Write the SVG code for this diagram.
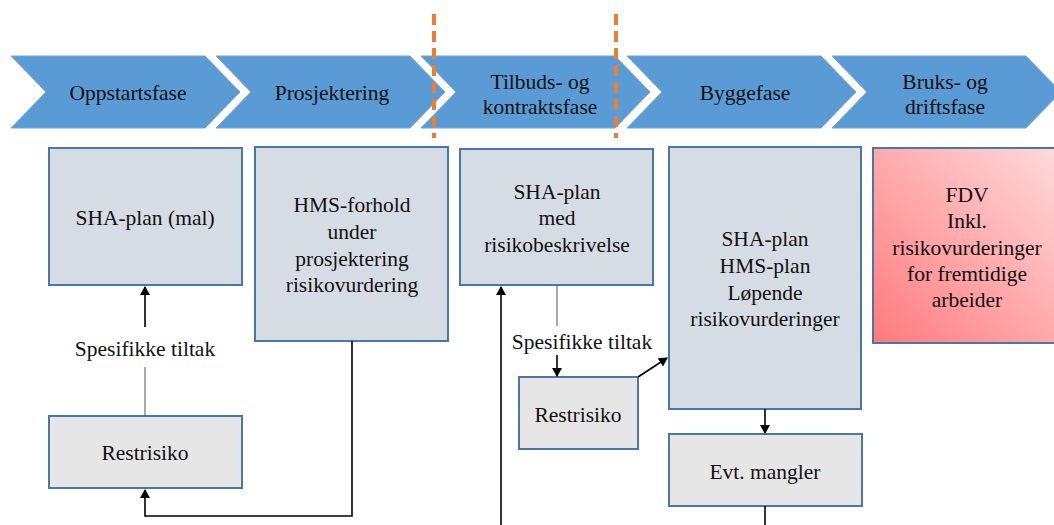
<svg xmlns="http://www.w3.org/2000/svg" width="1054" height="525" viewBox="0 0 1054 525">
<style>
text{font-family:"Liberation Serif","Times New Roman",serif;font-size:21.5px;fill:#111;text-anchor:middle}
.chev{fill:#5b9bd5;stroke:#6fa6d8;stroke-width:1}
.box{fill:#d6dce4;stroke:#4a76a8;stroke-width:2}
.gbox{fill:#e7e6e6;stroke:#4a76a8;stroke-width:2}
.conn{fill:none;stroke:#000;stroke-width:1.6}
.thin{fill:none;stroke:#555;stroke-width:1}
.dash{stroke:#ed7d31;stroke-width:4;stroke-dasharray:11 6;fill:none}
</style>
<defs>
<marker id="ah" markerWidth="10" markerHeight="10" refX="8" refY="5" orient="auto" markerUnits="userSpaceOnUse">
<path d="M0,0 L9,5 L0,10 z" fill="#000"/>
</marker>
<linearGradient id="red" x1="0" y1="1" x2="1" y2="0">
<stop offset="0" stop-color="#ff7a7e"/>
<stop offset="1" stop-color="#ffdcdc"/>
</linearGradient>
</defs>
<rect width="1054" height="525" fill="#fff"/>
<g id="phase1"><polygon class="chev" points="11,56 205,56 240,92 205,128 11,128 46,92"/><text x="128" y="100">Oppstartsfase</text></g>
<g id="phase2"><polygon class="chev" points="216,56 410,56 445,92 410,128 216,128 251,92"/><text x="332" y="100">Prosjektering</text></g>
<g id="phase3"><polygon class="chev" points="421,56 615,56 650,92 615,128 421,128 456,92"/><text x="540" y="89">Tilbuds- og</text><text x="540" y="114">kontraktsfase</text></g>
<g id="phase4"><polygon class="chev" points="627,56 821,56 856,92 821,128 627,128 662,92"/><text x="745" y="100">Byggefase</text></g>
<g id="phase5"><polygon class="chev" points="832,56 1026,56 1061,92 1026,128 832,128 867,92"/><text x="945" y="89">Bruks- og</text><text x="945" y="114">driftsfase</text></g>
<g id="dividers"><line class="dash" x1="434" y1="14" x2="434" y2="138"/><line class="dash" x1="616" y1="14" x2="616" y2="138"/></g>
<g id="sha-mal"><rect class="box" x="49" y="148" width="193" height="137"/><text x="145" y="225">SHA-plan (mal)</text></g>
<g id="hms-forhold"><rect class="box" x="255" y="147" width="193" height="194"/><text x="352" y="212">HMS-forhold</text><text x="352" y="239">under</text><text x="352" y="266">prosjektering</text><text x="352" y="292">risikovurdering</text></g>
<g id="restrisiko1"><rect class="gbox" x="49" y="416" width="193" height="72"/><text x="145" y="460">Restrisiko</text></g>
<g id="sha-risiko"><rect class="box" x="460" y="149" width="193" height="136"/><text x="557" y="199">SHA-plan</text><text x="557" y="225">med</text><text x="557" y="252">risikobeskrivelse</text></g>
<g id="sha-hms"><rect class="box" x="669" y="147" width="192" height="262"/><text x="765" y="246">SHA-plan</text><text x="765" y="273">HMS-plan</text><text x="765" y="300">Løpende</text><text x="765" y="326">risikovurderinger</text></g>
<g id="restrisiko2"><rect class="gbox" x="519" y="377" width="119" height="72"/><text x="578" y="422">Restrisiko</text></g>
<g id="mangler"><rect class="gbox" x="669" y="434" width="193" height="72"/><text x="765" y="479">Evt. mangler</text></g>
<g id="fdv"><rect x="873" y="148" width="190" height="195" fill="url(#red)" stroke="#4a76a8" stroke-width="2"/><text x="967" y="202">FDV</text><text x="967" y="228">Inkl.</text><text x="967" y="255">risikovurderinger</text><text x="967" y="281">for fremtidige</text><text x="967" y="307">arbeider</text></g>
<g id="connectors">
<line class="thin" x1="145" y1="416" x2="145" y2="367"/>
<line class="conn" x1="145" y1="327" x2="145" y2="287" marker-end="url(#ah)"/>
<text x="145" y="356">Spesifikke tiltak</text>
<polyline class="conn" points="352,341 352,516 145,516 145,490" marker-end="url(#ah)"/>
<line class="thin" x1="557" y1="285" x2="557" y2="326"/>
<text x="582" y="349">Spesifikke tiltak</text>
<line class="conn" x1="557" y1="355" x2="557" y2="376" marker-end="url(#ah)"/>
<line class="conn" x1="638" y1="377" x2="667" y2="358" marker-end="url(#ah)"/>
<line class="conn" x1="765" y1="409" x2="765" y2="433" marker-end="url(#ah)"/>
<line class="conn" x1="765" y1="506" x2="765" y2="525"/>
<line class="conn" x1="501" y1="525" x2="501" y2="287" marker-end="url(#ah)"/>
</g>
</svg>
